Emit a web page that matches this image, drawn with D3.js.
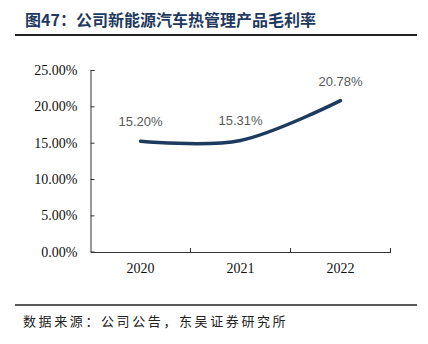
<!DOCTYPE html>
<html><head><meta charset="utf-8">
<script src="https://cdn.jsdelivr.net/npm/d3@7"></script>
<style>html,body{margin:0;padding:0;background:#fff;}svg{display:block;}</style>
</head><body>
<script>
const title = "图47：公司新能源汽车热管理产品毛利率";
const source = "数据来源：公司公告，东吴证券研究所";
const categories = ["2020", "2021", "2022"];
const margins = [15.20, 15.31, 20.78];
const yTicks = [0, 5, 10, 15, 20, 25];

const W = 428, H = 344;
const svg = d3.select("body").append("svg").attr("width", W).attr("height", H);

svg.append("text").attr("x", 25).attr("y", 26)
  .attr("font-family", "Noto Sans CJK SC").attr("font-weight", "bold")
  .attr("font-size", 16).attr("fill", "#1f3a60").text(title);
svg.append("line").attr("x1", 15).attr("x2", 417).attr("y1", 35).attr("y2", 35)
  .attr("stroke", "#222").attr("stroke-width", 2);
svg.append("line").attr("x1", 15).attr("x2", 417).attr("y1", 305).attr("y2", 305)
  .attr("stroke", "#222").attr("stroke-width", 1.6);
svg.append("text").attr("x", 23).attr("y", 326)
  .attr("font-family", "Noto Sans CJK SC").attr("font-size", 13)
  .attr("letter-spacing", 2.6).attr("fill", "#222").text(source);

const x = d3.scaleBand().domain(categories).range([90.5, 390.5]);
const y = d3.scaleLinear().domain([0, 25]).range([251.7, 70]);

const gy = svg.append("g").attr("transform", "translate(90.5,0)")
  .call(d3.axisLeft(y).tickValues(yTicks).tickSizeInner(-4).tickSizeOuter(-4)
    .tickPadding(13).tickFormat(d => d3.format(".2f")(d) + "%"));
const gx = svg.append("g").attr("transform", "translate(0,252)")
  .call(d3.axisBottom(x).tickSize(0).tickPadding(11));
// category boundary ticks
svg.append("g").selectAll("line").data(categories)
  .join("line")
  .attr("x1", d => x(d) + x.bandwidth())
  .attr("x2", d => x(d) + x.bandwidth())
  .attr("y1", 248).attr("y2", 252).attr("stroke", "#333");

[gy, gx].forEach(g => {
  g.selectAll(".domain, line").attr("stroke", "#333");
  g.selectAll("text").attr("font-family", "Liberation Serif").attr("font-size", 14).attr("fill", "#111");
});

const line = d3.line().x((d, i) => x(categories[i]) + x.bandwidth() / 2).y(d => y(d))
  .curve(d3.curveCardinal.tension(0));
svg.append("path").datum(margins).attr("d", line).attr("fill", "none")
  .attr("stroke", "#1d3a5f").attr("stroke-width", 3.5).attr("stroke-linecap", "round");

svg.append("g").selectAll("text").data(margins).join("text")
  .attr("x", (d, i) => x(categories[i]) + x.bandwidth() / 2)
  .attr("y", d => y(d) - 15)
  .attr("text-anchor", "middle")
  .attr("font-family", "Liberation Sans").attr("font-size", 13).attr("fill", "#595959")
  .text(d => d3.format(".2f")(d) + "%");
</script>
</body></html>
